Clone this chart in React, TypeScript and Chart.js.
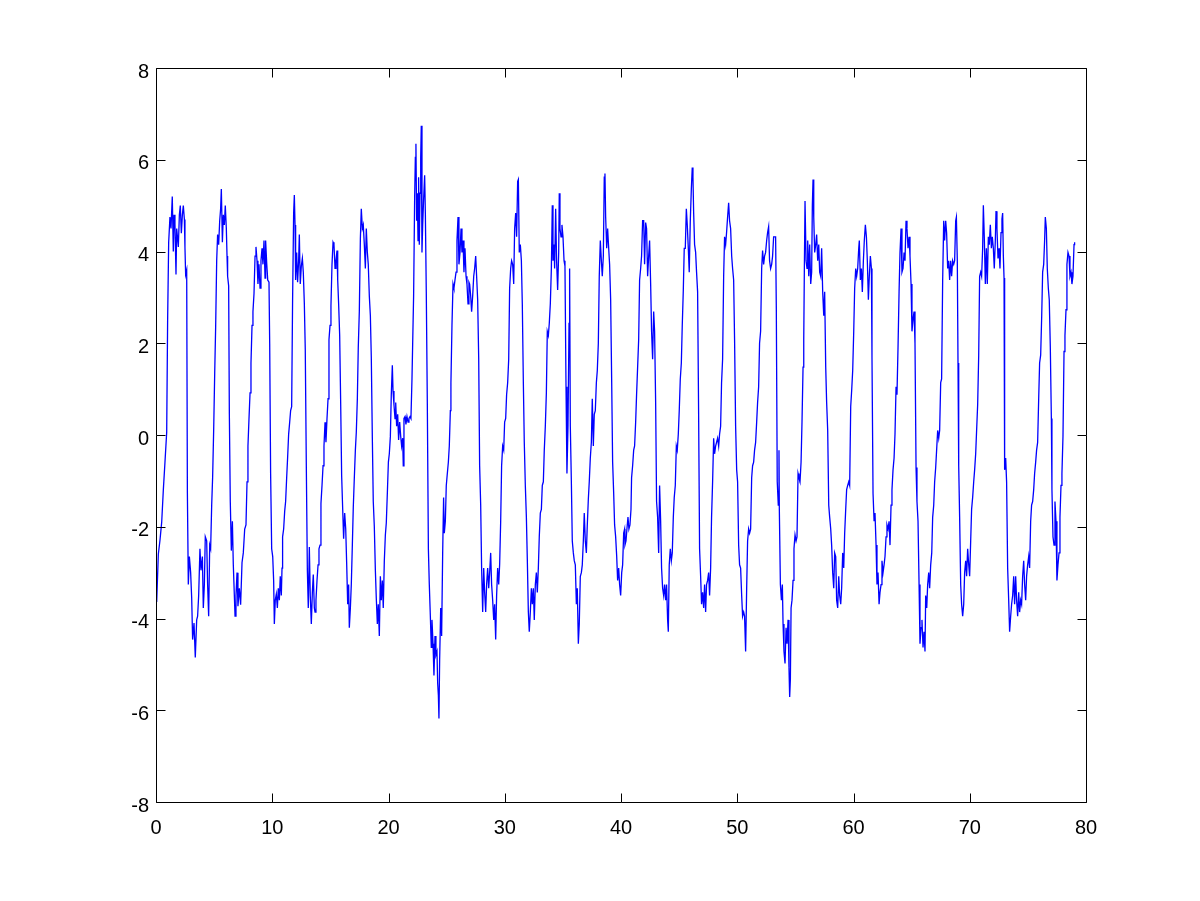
import React, { useEffect, useRef } from "react";
import { Chart, registerables } from "chart.js";

Chart.register(...registerables);

// Signal in six stretches (x, y)
const segA: [number, number][] = [
  [0,-3.0],[0.06,-3.64],[0.2,-2.6],[0.34,-2.3],[0.49,-1.9],[0.63,-1.2],[0.77,-0.6],[0.92,0.06],[1.0,2.5],[1.09,4.2],[1.2,4.75],[1.29,4.5],[1.4,5.2],[1.49,4.0],[1.55,4.8],[1.63,4.6],[1.72,3.5],[1.78,4.5],[1.92,4.1],[2.01,4.8],[2.09,5.0],[2.18,4.4],[2.27,4.8],[2.35,5.0],[2.44,4.7],[2.49,4.1],[2.55,3.5],[2.64,3.6],[2.7,-1.27],[2.78,-3.26],[2.87,-2.65],[2.98,-3.0],[3.07,-3.56],[3.15,-4.46],[3.27,-4.1],[3.38,-4.85],[3.5,-4.03],[3.58,-3.95],[3.67,-3.5],[3.78,-2.48],[3.87,-2.95],[3.99,-2.65],[4.07,-3.77],[4.16,-3.26],[4.24,-2.22],[4.36,-2.31],[4.44,-3.26],[4.53,-3.95],[4.62,-2.4],[4.7,-2.48],[4.79,-1.53],[4.87,-0.93],[4.96,0.1],[5.05,1.35],[5.13,2.34],[5.22,3.8],[5.3,4.37],[5.39,4.15],[5.48,4.67],[5.56,4.93],[5.62,5.36],[5.71,4.2],[5.79,4.8],[5.88,4.58],[5.96,5.0],[6.05,4.5],[6.11,3.9],[6.16,3.46],[6.25,3.25],[6.31,0.45],[6.39,-1.45],[6.48,-2.52],[6.57,-1.88],[6.65,-2.83],[6.8,-3.95],[6.88,-3.5],[6.97,-3.0],[7.05,-3.73],[7.17,-3.34],[7.28,-3.7],[7.4,-2.78],[7.51,-2.57],[7.63,-2.05],[7.74,-1.96],[7.83,-1.02],[7.91,-0.24],[8.0,0.36],[8.09,0.92],[8.17,1.57],[8.26,2.39],[8.34,2.69],[8.43,3.08],[8.52,3.9],[8.6,4.1],[8.69,3.8],[8.77,3.29],[8.86,3.72],[8.95,3.2],[9.03,3.8],[9.12,4.07],[9.2,3.72],[9.29,4.24],[9.38,3.42],[9.43,4.24],[9.52,3.76],[9.61,3.38],[9.72,3.33],[9.78,2.0],[9.86,-0.84],[9.95,-2.48],[10.04,-2.65],[10.12,-3.17],[10.18,-4.12],[10.26,-3.6],[10.35,-3.47],[10.44,-3.77],[10.52,-3.34],[10.61,-3.6],[10.69,-3.08],[10.78,-3.5],[10.84,-2.9],[10.89,-2.22],[10.98,-2.05],[11.07,-1.66],[11.15,-1.45],[11.24,-0.93],[11.32,-0.5],[11.41,0.02],[11.5,0.28],[11.58,0.53],[11.67,0.62],[11.75,2.95],[11.84,4.84],[11.9,5.23],[11.96,4.58],[12.01,3.38],[12.1,3.98],[12.18,3.33],[12.27,3.8],[12.33,4.37],[12.41,3.29],[12.5,3.68],[12.59,3.85],[12.67,3.55],[12.76,2.86],[12.84,1.87],[12.93,-0.67],[13.02,-2.95],[13.1,-3.77],[13.19,-2.44],[13.27,-3.5],[13.36,-4.12],[13.45,-3.43],[13.53,-3.04],[13.62,-3.77],
];

const segB: [number, number][] = [
  [13.68,-3.86],[13.76,-3.6],[13.85,-3.17],[13.94,-2.83],[14.02,-2.48],[14.11,-2.4],[14.19,-1.49],[14.28,-1.1],[14.37,-0.67],[14.45,-0.24],[14.54,0.28],[14.62,-0.16],[14.71,0.36],[14.8,0.79],[14.88,2.08],[14.97,2.39],[15.05,2.82],[15.14,3.72],[15.23,4.2],[15.31,4.15],[15.4,3.63],[15.48,3.8],[15.57,4.02],[15.63,3.38],[15.71,2.86],[15.8,2.17],[15.89,0.62],[15.97,-0.89],[16.06,-1.62],[16.14,-2.26],[16.23,-1.7],[16.32,-2.05],[16.4,-2.78],[16.49,-3.69],[16.57,-3.26],[16.63,-4.2],[16.72,-3.77],[16.8,-3.26],[16.89,-2.4],[16.97,-1.58],[17.06,-0.93],[17.15,-0.33],[17.23,0.06],[17.32,0.79],[17.4,1.91],[17.49,2.69],[17.58,4.28],[17.66,4.93],[17.75,4.5],[17.83,4.58],[17.92,4.15],[18.01,3.63],[18.09,4.5],[18.18,3.98],[18.26,3.72],[18.35,3.03],[18.44,2.6],[18.52,1.7],[18.61,-0.07],[18.69,-1.45],[18.78,-2.0],[18.87,-2.95],[18.95,-3.56],[19.04,-4.12],[19.12,-3.69],[19.21,-4.38],[19.3,-3.08],[19.38,-3.6],[19.47,-3.17],[19.55,-3.77],[19.64,-2.74],[19.73,-2.18],[19.81,-1.92],[19.9,-1.27],[19.99,-0.59],[20.07,-0.41],[20.16,-0.03],[20.24,0.88],[20.33,1.52],[20.39,0.96],[20.47,0.66],[20.56,0.36],[20.62,0.71],[20.7,0.19],[20.79,0.45],[20.87,-0.11],[20.96,0.28],[21.05,-0.03],[21.13,-0.24],[21.22,-0.07],[21.27,-0.67],[21.33,0.36],[21.42,0.4],[21.5,0.23],[21.59,0.4],[21.68,0.28],[21.76,0.36],[21.85,0.4],[21.93,0.36],[22.02,1.22],[22.08,2.0],[22.16,3.03],[22.25,5.19],[22.31,6.05],[22.36,6.35],[22.42,4.67],[22.48,5.27],[22.54,4.24],[22.59,5.62],[22.65,4.15],[22.71,5.27],[22.77,6.05],[22.82,6.74],[22.88,3.98],[22.94,4.58],[23.02,5.14],[23.11,5.66],[23.17,4.84],[23.25,3.12],[23.34,0.66],[23.43,-2.48],[23.51,-3.26],[23.6,-3.95],[23.68,-4.63],[23.74,-4.03],[23.83,-4.55],[23.91,-5.24],[24.0,-4.38],[24.08,-4.8],[24.17,-4.72],[24.23,-5.41],[24.29,-5.67],[24.34,-6.18],[24.4,-4.89],[24.49,-3.77],[24.57,-4.38],[24.66,-2.57],[24.74,-1.36],[24.8,-2.14],[24.89,-1.88],[24.97,-1.1],[25.06,-0.84],[25.15,-0.59],[25.23,-0.24],[25.32,0.53],[25.37,1.14],[25.46,2.39],[25.55,3.29],[25.63,3.2],[25.72,3.38],[25.81,3.55],[25.89,4.24],[25.98,4.75],[26.06,3.72],[26.15,3.98],[26.24,4.5],[26.32,3.98],[26.41,4.24],[26.49,3.55],[26.58,4.07],[26.67,3.46],[26.75,3.29],[26.84,2.86],[26.92,3.33],
];

const segC: [number, number][] = [
  [26.98,3.29],[27.07,3.03],[27.15,2.69],[27.24,3.03],[27.33,3.46],[27.41,3.63],[27.5,3.9],[27.58,3.46],[27.67,2.95],[27.76,1.65],[27.84,-0.67],[27.93,-1.53],[28.01,-2.9],[28.1,-3.86],[28.19,-2.9],[28.27,-3.43],[28.36,-3.86],[28.44,-3.26],[28.53,-2.9],[28.62,-3.34],[28.7,-3.0],[28.79,-2.57],[28.87,-3.26],[28.96,-3.6],[29.05,-4.03],[29.13,-3.69],[29.22,-4.46],[29.3,-3.5],[29.39,-2.9],[29.48,-3.26],[29.56,-2.83],[29.65,-1.88],[29.73,-0.67],[29.82,-0.24],[29.91,-0.33],[29.99,0.28],[30.08,0.36],[30.16,0.88],[30.25,1.14],[30.34,1.65],[30.42,3.2],[30.51,3.63],[30.59,3.8],[30.68,3.72],[30.77,3.29],[30.85,4.5],[30.94,4.84],[31.02,4.32],[31.11,5.53],[31.17,5.57],[31.25,3.98],[31.34,4.15],[31.43,3.8],[31.51,2.86],[31.6,1.14],[31.68,-0.16],[31.77,-1.1],[31.86,-1.79],[31.94,-2.7],[32.03,-3.86],[32.11,-4.29],[32.2,-3.86],[32.29,-3.34],[32.37,-3.69],[32.46,-3.34],[32.54,-4.03],[32.63,-3.26],[32.72,-3.0],[32.8,-3.43],[32.89,-2.9],[32.97,-2.22],[33.06,-1.7],[33.15,-1.62],[33.23,-1.1],[33.32,-1.02],[33.4,-0.33],[33.49,0.19],[33.58,0.92],[33.66,2.26],[33.75,2.17],[33.83,2.43],[33.92,2.86],[34.01,3.63],[34.09,5.01],[34.15,3.8],[34.24,4.15],[34.29,3.63],[34.38,4.93],[34.46,3.8],[34.55,3.16],[34.64,3.98],[34.69,5.27],[34.75,4.5],[34.84,4.32],[34.92,4.58],[35.01,4.32],[35.1,3.8],[35.18,3.68],[35.27,1.05],[35.35,-0.84],[35.44,0.19],[35.53,2.43],[35.58,3.63],[35.64,0.19],[35.73,-1.02],[35.81,-2.31],[35.9,-2.57],[35.98,-2.74],[36.07,-2.83],[36.16,-3.69],[36.24,-3.34],[36.33,-4.55],[36.41,-4.12],[36.5,-3.08],[36.59,-3.0],[36.67,-2.83],[36.76,-2.31],[36.84,-1.7],[36.93,-2.31],[37.02,-2.57],[37.1,-1.96],[37.19,-1.4],[37.27,-1.02],[37.36,-0.5],[37.45,-0.16],[37.53,0.79],[37.62,-0.24],[37.7,0.45],[37.79,0.53],[37.88,1.14],[37.96,1.4],[38.05,2.0],[38.13,3.46],[38.22,4.24],[38.31,3.8],[38.39,3.46],[38.48,3.9],[38.56,5.62],[38.62,5.7],[38.68,4.75],[38.77,4.07],[38.85,4.5],[38.94,4.07],[39.02,3.72],[39.11,2.95],[39.2,1.14],[39.28,-0.59],[39.37,-1.27],[39.45,-1.96],[39.54,-2.22],[39.63,-2.65],[39.71,-3.17],[39.8,-2.9],[39.88,-3.26],[39.97,-3.5],[40.06,-3.0],[40.14,-2.83],[40.23,-2.14],[40.31,-2.05],
];

const segD: [number, number][] = [
  [40.34,-2.4],[40.43,-2.31],[40.51,-2.05],[40.6,-1.79],[40.68,-2.05],[40.77,-1.96],[40.86,-1.62],[40.91,-0.93],[41.0,-0.67],[41.09,-0.33],[41.17,-0.24],[41.26,0.28],[41.34,0.88],[41.43,1.48],[41.52,2.08],[41.6,3.38],[41.69,3.63],[41.77,3.9],[41.86,4.67],[41.95,4.67],[42.03,3.72],[42.12,4.63],[42.2,4.5],[42.29,3.46],[42.38,3.9],[42.46,4.24],[42.55,3.29],[42.63,2.26],[42.72,1.65],[42.81,2.69],[42.89,2.26],[42.98,0.71],[43.06,-1.45],[43.15,-1.79],[43.24,-2.57],[43.32,-1.1],[43.41,-1.88],[43.49,-2.9],[43.58,-3.34],[43.67,-3.5],[43.75,-3.26],[43.84,-3.6],[43.92,-3.26],[44.01,-4.03],[44.07,-4.29],[44.15,-2.83],[44.24,-2.48],[44.33,-2.74],[44.41,-2.57],[44.5,-1.79],[44.58,-1.36],[44.67,-1.1],[44.76,-0.24],[44.84,-0.33],[44.93,0.02],[45.01,0.53],[45.1,1.22],[45.19,1.57],[45.27,2.39],[45.36,3.16],[45.44,4.07],[45.53,4.07],[45.62,4.93],[45.7,4.58],[45.79,4.07],[45.87,3.55],[45.96,4.67],[46.05,5.36],[46.13,5.83],[46.19,5.62],[46.25,4.84],[46.33,4.15],[46.42,3.98],[46.5,3.55],[46.59,3.12],[46.68,0.36],[46.76,-2.48],[46.85,-3.08],[46.93,-3.69],[47.02,-3.43],[47.11,-3.77],[47.19,-3.26],[47.28,-3.86],[47.36,-3.26],[47.45,-3.17],[47.54,-3.0],[47.62,-3.5],[47.71,-2.9],[47.79,-1.79],[47.88,-1.02],[47.97,-0.07],[48.05,-0.41],[48.14,-0.24],[48.22,-0.16],[48.31,-0.07],[48.4,-0.24],[48.48,0.02],[48.57,0.19],[48.65,1.14],[48.74,1.65],[48.83,3.46],[48.91,4.32],[49.0,4.15],[49.08,4.41],[49.17,4.75],[49.26,5.06],[49.34,4.67],[49.43,4.5],[49.52,3.9],[49.6,3.63],[49.69,3.38],[49.77,2.08],[49.86,0.19],[49.95,-0.76],[50.03,-1.02],[50.12,-2.4],[50.2,-2.83],[50.29,-2.9],[50.38,-3.5],[50.46,-3.95],[50.55,-3.86],[50.63,-3.95],[50.72,-4.72],[50.81,-3.34],[50.89,-2.31],[50.98,-2.05],[51.06,-2.14],[51.15,-2.05],[51.24,-0.93],[51.32,-0.67],[51.41,-0.59],[51.49,-0.33],[51.58,-0.16],[51.67,0.28],[51.75,0.71],[51.84,1.05],[51.92,2.0],[52.01,2.26],[52.1,3.63],[52.18,4.02],[52.27,3.72],[52.35,3.9],[52.44,3.98],[52.53,4.24],[52.61,4.41],[52.7,4.54],[52.78,3.8],[52.87,3.63],[52.96,3.72],[53.04,3.9],[53.13,4.32],[53.21,4.32],[53.3,4.32],[53.36,2.77],[53.44,-1.02],[53.53,-1.53],[53.59,-0.33],
];

const segE: [number, number][] = [
  [53.62,-1.62],[53.71,-3.26],[53.8,-3.6],[53.88,-3.26],[53.94,-4.12],[54.02,-4.72],[54.11,-4.98],[54.2,-4.2],[54.28,-4.55],[54.37,-4.03],[54.45,-5.06],[54.51,-5.71],[54.57,-5.32],[54.63,-3.77],[54.71,-3.6],[54.8,-3.17],[54.88,-2.48],[54.97,-2.18],[55.06,-2.31],[55.14,-2.22],[55.23,-0.84],[55.31,-0.93],[55.4,-1.02],[55.49,-0.59],[55.57,0.28],[55.66,1.48],[55.72,2.08],[55.77,3.55],[55.83,5.1],[55.92,3.8],[56.0,3.63],[56.06,4.24],[56.15,3.46],[56.23,4.15],[56.32,3.29],[56.4,3.55],[56.46,5.01],[56.52,5.57],[56.58,4.75],[56.66,3.98],[56.75,4.15],[56.83,4.37],[56.92,3.8],[57.01,4.15],[57.09,3.55],[57.18,3.46],[57.26,4.07],[57.35,3.12],[57.44,2.6],[57.52,3.12],[57.61,1.48],[57.69,0.71],[57.78,0.1],[57.87,-1.53],[57.95,-1.79],[58.04,-2.05],[58.12,-2.4],[58.21,-3.0],[58.3,-3.34],[58.38,-2.57],[58.47,-2.65],[58.55,-3.6],[58.64,-3.77],[58.73,-3.08],[58.81,-3.5],[58.9,-3.69],[58.98,-3.34],[59.07,-2.57],[59.16,-2.9],[59.24,-2.14],[59.33,-1.62],[59.41,-1.19],[59.5,-1.1],[59.59,-1.02],[59.67,-1.1],[59.76,0.62],[59.84,0.96],[59.93,1.4],[60.02,2.26],[60.1,3.2],[60.19,3.63],[60.27,3.46],[60.36,3.63],[60.45,4.07],[60.5,4.24],[60.59,3.38],[60.68,3.63],[60.76,3.12],[60.85,3.8],[60.93,4.24],[61.02,4.58],[61.11,4.32],[61.19,3.8],[61.28,2.95],[61.36,3.46],[61.45,3.9],[61.54,3.63],[61.59,1.7],[61.68,-1.27],[61.77,-1.88],[61.85,-1.7],[61.94,-2.4],[62.02,-3.26],[62.11,-3.0],[62.2,-3.69],[62.28,-3.43],[62.37,-3.26],[62.45,-2.74],[62.54,-3.0],[62.63,-2.83],[62.71,-2.65],[62.8,-2.22],[62.88,-1.96],[62.97,-2.05],[63.06,-1.88],[63.14,-2.4],[63.23,-1.53],[63.31,-1.19],[63.4,-0.76],[63.49,-0.5],[63.57,0.02],[63.66,1.05],[63.74,0.88],[63.83,1.91],[63.92,3.12],[64.0,3.98],[64.09,4.5],[64.17,3.55],[64.26,3.63],[64.35,3.98],[64.43,3.8],[64.52,4.67],[64.6,4.5],[64.69,4.07],[64.78,4.32],[64.86,3.9],[64.95,3.29],[65.03,2.26],[65.12,2.52],[65.21,2.69],[65.29,2.0],[65.38,-0.71],[65.46,-1.45],[65.55,-1.88],[65.64,-3.26],[65.72,-4.55],[65.81,-4.2],[65.89,-4.03],[65.98,-4.63],[66.07,-4.29],[66.15,-4.72],[66.21,-3.5],[66.3,-3.77],[66.38,-3.26],[66.47,-3.0],[66.55,-3.34],[66.64,-2.83],[66.73,-2.57],[66.81,-1.79],[66.9,-1.53],
];

const segF: [number, number][] = [
  [66.98,-1.02],[67.07,-0.71],[67.15,-0.33],[67.24,0.1],[67.33,-0.07],[67.41,0.1],[67.5,1.14],[67.58,1.22],[67.67,3.38],[67.76,4.67],[67.84,4.24],[67.93,4.67],[68.01,4.41],[68.1,3.63],[68.19,3.8],[68.27,3.38],[68.36,3.8],[68.44,3.46],[68.53,3.8],[68.62,3.72],[68.7,3.8],[68.79,4.67],[68.85,4.75],[68.93,3.8],[68.99,1.57],[69.05,-0.67],[69.13,-1.79],[69.22,-3.26],[69.3,-3.69],[69.39,-3.95],[69.48,-3.69],[69.56,-3.0],[69.65,-2.74],[69.73,-3.08],[69.82,-2.48],[69.91,-2.83],[69.99,-3.08],[70.08,-2.31],[70.16,-1.62],[70.25,-1.36],[70.34,-1.02],[70.42,-0.76],[70.51,-0.41],[70.59,0.1],[70.68,0.66],[70.77,1.74],[70.85,3.46],[70.94,3.55],[71.02,3.46],[71.11,4.07],[71.17,5.01],[71.25,4.32],[71.34,3.29],[71.43,4.07],[71.51,3.29],[71.6,4.32],[71.68,4.15],[71.77,4.58],[71.86,4.07],[71.94,4.32],[72.03,4.07],[72.11,3.63],[72.2,4.24],[72.26,4.88],[72.34,4.5],[72.43,3.85],[72.52,4.07],[72.6,3.63],[72.69,4.41],[72.77,4.71],[72.83,4.84],[72.89,3.9],[72.95,3.42],[73.0,-0.76],[73.09,-0.5],[73.17,-1.02],[73.26,-2.9],[73.35,-3.6],[73.43,-4.29],[73.52,-3.95],[73.6,-3.69],[73.69,-3.5],[73.78,-3.08],[73.86,-3.69],[73.95,-3.08],[74.03,-3.6],[74.12,-3.95],[74.21,-3.43],[74.29,-3.86],[74.38,-3.6],[74.46,-3.69],[74.55,-3.08],[74.64,-2.74],[74.72,-3.26],[74.81,-3.6],[74.89,-3.08],[74.98,-2.83],[75.07,-2.65],[75.15,-2.9],[75.24,-1.88],[75.32,-1.53],[75.41,-1.45],[75.5,-1.19],[75.58,-0.84],[75.67,-0.59],[75.75,-0.33],[75.84,-0.16],[75.93,0.79],[76.01,1.57],[76.1,1.74],[76.19,2.6],[76.27,3.55],[76.36,3.72],[76.44,4.24],[76.5,4.75],[76.59,4.5],[76.67,3.63],[76.76,3.2],[76.84,2.95],[76.93,1.91],[77.02,0.36],[77.07,-1.19],[77.16,-2.22],[77.25,-2.4],[77.33,-1.45],[77.42,-1.88],[77.5,-3.17],[77.59,-2.83],[77.68,-2.57],[77.76,-1.79],[77.85,-1.1],[77.93,-0.84],[78.02,-0.03],[78.11,1.82],[78.19,2.17],[78.28,2.73],[78.36,3.72],[78.45,3.98],[78.54,3.9],[78.62,3.46],[78.71,3.55],[78.79,3.29],[78.88,3.46],[78.97,4.15],[79.02,4.2],
];

const xTickValues = [0, 10, 20, 30, 40, 50, 60, 70, 80];
const yTickValues = [-8, -6, -4, -2, 0, 2, 4, 6, 8];

const FONT = '"Liberation Sans", Arial, Helvetica, sans-serif';

const boxPlugin = {
  id: "matlabBox",
  afterDraw(chart: any) {
    const { ctx, chartArea: a, scales } = chart;
    const L = a.left + 0.5;
    const R = a.right + 0.5;
    const T = a.top + 0.5;
    const B = a.bottom + 0.5;
    const len = 9;
    ctx.save();
    ctx.strokeStyle = "#000";
    ctx.lineWidth = 1;
    ctx.beginPath();
    ctx.rect(L, T, R - L, B - T);
    for (const v of xTickValues) {
      const px = Math.round(scales.x.getPixelForValue(v)) + 0.5;
      ctx.moveTo(px, B);
      ctx.lineTo(px, B - len);
      ctx.moveTo(px, T);
      ctx.lineTo(px, T + len);
    }
    for (const v of yTickValues) {
      const py = Math.round(scales.y.getPixelForValue(v)) + 0.5;
      ctx.moveTo(L, py);
      ctx.lineTo(L + len, py);
      ctx.moveTo(R, py);
      ctx.lineTo(R - len, py);
    }
    ctx.stroke();
    ctx.restore();
  },
};

export default function App() {
  const ref = useRef<HTMLCanvasElement | null>(null);

  useEffect(() => {
    document.body.style.margin = "0";
    document.body.style.background = "#fff";
    const canvas = ref.current;
    if (!canvas) return;
    const points = [...segA, ...segB, ...segC, ...segD, ...segE, ...segF].map(([x, y]) => ({ x, y }));
    const chart = new Chart(canvas, {
      type: "scatter",
      data: {
        datasets: [
          {
            data: points,
            showLine: true,
            borderColor: "#0000ff",
            borderWidth: 1.3,
            pointRadius: 0,
            pointHoverRadius: 0,
            tension: 0,
            fill: false,
          },
        ],
      },
      options: {
        responsive: false,
        animation: false,
        devicePixelRatio: 1,
        layout: { padding: { left: 0, right: 114, top: 68, bottom: 0 } },
        plugins: { legend: { display: false }, tooltip: { enabled: false } },
        scales: {
          x: {
            type: "linear",
            min: 0,
            max: 80,
            afterBuildTicks: (s: any) => {
              s.ticks = xTickValues.map((v) => ({ value: v }));
            },
            afterFit: (s: any) => {
              s.height = 99;
            },
            grid: { display: false, drawTicks: false },
            border: { display: false },
            ticks: {
              color: "#000",
              font: { family: FONT, size: 20 },
              padding: 14,
              maxRotation: 0,
              autoSkip: false,
              callback: (v: any) => String(v),
            },
          },
          y: {
            type: "linear",
            min: -8,
            max: 8,
            afterBuildTicks: (s: any) => {
              s.ticks = yTickValues.map((v) => ({ value: v }));
            },
            afterFit: (s: any) => {
              s.width = 156;
            },
            grid: { display: false, drawTicks: false },
            border: { display: false },
            ticks: {
              color: "#000",
              font: { family: FONT, size: 20 },
              padding: 7,
              labelOffset: 4,
              autoSkip: false,
              callback: (v: any) => String(v),
            },
          },
        },
      },
      plugins: [boxPlugin],
    });
    return () => chart.destroy();
  }, []);

  return <canvas ref={ref} width={1200} height={901} style={{ display: "block" }} />;
}
